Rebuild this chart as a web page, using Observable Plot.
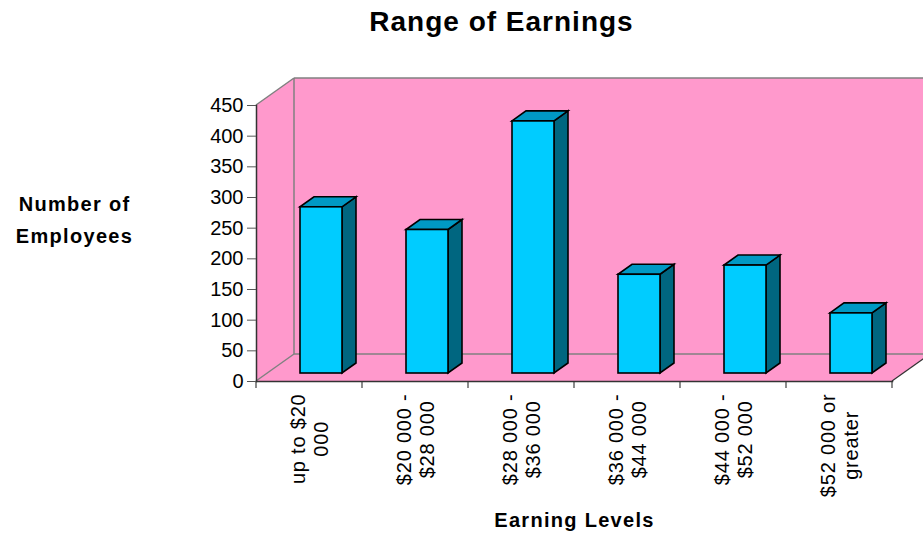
<!DOCTYPE html>
<html>
<head>
<meta charset="utf-8">
<script src="https://cdn.jsdelivr.net/npm/d3@7"></script>
<script src="https://cdn.jsdelivr.net/npm/@observablehq/plot@0.6"></script>
<style>
  html, body { margin: 0; padding: 0; background: #ffffff; }
  #chart svg { display: block; }
  #chart g[font-size="28"] text { letter-spacing: 1px; }
  #chart g[font-weight="bold"][font-size="20"] text { letter-spacing: 1.3px; }
  #chart text[transform*="rotate"] { letter-spacing: 0.8px; }
</style>
</head>
<body>
<div id="chart"></div>
<script>
// ---- data ----
const categories = ["up to $20 000", "$20 000 - $28 000", "$28 000 - $36 000", "$36 000 - $44 000", "$44 000 - $52 000", "$52 000 or greater"];
const categoryLabels = ["up to $20\n000", "$20 000 -\n$28 000", "$28 000 -\n$36 000", "$36 000 -\n$44 000", "$44 000 -\n$52 000", "$52 000 or\ngreater"];
const employees = [271, 234, 411, 161, 176, 98];
const yTicks = [0, 50, 100, 150, 200, 250, 300, 350, 400, 450];
const titleText = "Range of Earnings";
const yTitle = "Number of\nEmployees";
const xTitle = "Earning Levels";

const data = categories.map((c, i) => ({cat: c, value: employees[i], label: categoryLabels[i]}));

// ---- style ----
const PINK = "#FF99CC", FRONT = "#00CCFF", TOP = "#0099C4", SIDE = "#006680";
const WALL_LINE = "#808080", DARK_LINE = "#333333";
const FONT = "'Liberation Sans', Arial, Helvetica, sans-serif";
const WALL = {dx: 38, dy: -27};   // depth of the 3D box
const BAR_OFF = {dx: 12, dy: -8}; // bar front plane offset
const BAR_D = {dx: 14, dy: -10};  // bar depth
const LABEL_LS = 0.8;             // letter spacing of category labels (matches CSS)

function bandwidthOf(s) { return typeof s.bandwidth === "function" ? s.bandwidth() : s.bandwidth; }

const ctx = document.createElement("canvas").getContext("2d");
ctx.font = "20px " + FONT;
function longest(label) { return Math.max(...label.split("\n").map(s => ctx.measureText(s).width + s.length * LABEL_LS)); }

function wallsRender(index, scales, values, dims) {
  const {x, y} = scales;
  const L = dims.marginLeft, R = dims.width - dims.marginRight;
  const T = y(450), B = y(0);
  const g = d3.create("svg:g");
  const pt = (a, b) => a + "," + b;
  g.append("rect").attr("x", L + WALL.dx).attr("y", T + WALL.dy)
    .attr("width", R - L + 10).attr("height", B - T).attr("fill", PINK);
  g.append("polygon").attr("points", [pt(L, B), pt(L, T), pt(L + WALL.dx, T + WALL.dy), pt(L + WALL.dx, B + WALL.dy)].join(" ")).attr("fill", PINK);
  g.append("polygon").attr("points", [pt(L, B), pt(R, B), pt(R + WALL.dx, B + WALL.dy), pt(L + WALL.dx, B + WALL.dy)].join(" ")).attr("fill", PINK);
  const line = (x1, y1, x2, y2, c, w) => g.append("line").attr("x1", x1).attr("y1", y1).attr("x2", x2).attr("y2", y2)
    .attr("stroke", c).attr("stroke-width", w || 1.5);
  line(L + WALL.dx, T + WALL.dy, dims.width + 20, T + WALL.dy, WALL_LINE);
  line(L + WALL.dx, T + WALL.dy, L + WALL.dx, B + WALL.dy, WALL_LINE);
  line(L + WALL.dx, B + WALL.dy, dims.width + 20, B + WALL.dy, WALL_LINE);
  line(L, T, L + WALL.dx, T + WALL.dy, WALL_LINE);
  line(L, B, L + WALL.dx, B + WALL.dy, WALL_LINE);
  line(R, B, R + WALL.dx, B + WALL.dy, DARK_LINE, 1.2);
  const bw = bandwidthOf(x);
  const step = x(categories[1]) - x(categories[0]);
  const bounds = categories.map(c => x(c) + bw / 2 - step / 2);
  bounds.push(x(categories[categories.length - 1]) + bw / 2 + step / 2);
  for (const bx of bounds) line(bx, B, bx, B + 7, "#666666", 1.5);
  return g.node();
}

function barsRender(index, scales) {
  const {x, y} = scales;
  const bw = bandwidthOf(x);
  const g = d3.create("svg:g").attr("stroke", "#000").attr("stroke-width", 1.6).attr("stroke-linejoin", "miter");
  const pt = (a, b) => a + "," + b;
  for (const i of index) {
    const d = data[i];
    const x0 = x(d.cat) + BAR_OFF.dx, x1 = x0 + bw;
    const yb = y(0) + BAR_OFF.dy, yt = y(d.value) + BAR_OFF.dy;
    g.append("polygon").attr("fill", SIDE)
      .attr("points", [pt(x1, yt), pt(x1 + BAR_D.dx, yt + BAR_D.dy), pt(x1 + BAR_D.dx, yb + BAR_D.dy), pt(x1, yb)].join(" "));
    g.append("polygon").attr("fill", TOP)
      .attr("points", [pt(x0, yt), pt(x1, yt), pt(x1 + BAR_D.dx, yt + BAR_D.dy), pt(x0 + BAR_D.dx, yt + BAR_D.dy)].join(" "));
    g.append("rect").attr("fill", FRONT).attr("x", x0).attr("y", yt).attr("width", bw).attr("height", yb - yt);
  }
  return g.node();
}

const labelMarks = data.map(d => Plot.text([d], {
  x: "cat", text: "label", frameAnchor: "bottom", rotate: -90,
  textAnchor: "middle", lineAnchor: "middle", lineHeight: 1.12,
  fontSize: 20, fill: "#000", dy: 12 + longest(d.label) / 2
}));

const chart = Plot.plot({
  width: 923,
  height: 533,
  marginLeft: 256,
  marginRight: 31,
  marginTop: 105,
  marginBottom: 152,
  style: {fontFamily: FONT, color: "#000", background: "#fff", overflow: "visible"},
  x: {domain: categories, paddingInner: 0.6, paddingOuter: 0.3, axis: null},
  y: {domain: [0, 450]},
  marks: [
    Plot.frame({stroke: "none", render: wallsRender}),
    Plot.barY(data, {x: "cat", y: "value", render: barsRender}),
    Plot.frame({anchor: "left", stroke: DARK_LINE, strokeWidth: 1.5}),
    Plot.frame({anchor: "bottom", stroke: DARK_LINE, strokeWidth: 1.5}),
    Plot.axisY({ticks: yTicks, tickSize: 9, tickPadding: 4, fontSize: 20, label: null, tickFormat: d => String(d), stroke: "#555"}),
    ...labelMarks,
    Plot.text([titleText], {frameAnchor: "top-left", dx: 245, dy: -83, textAnchor: "middle", lineAnchor: "middle",
      fontSize: 28, fontWeight: "bold", fill: "#000"}),
    Plot.text([yTitle], {frameAnchor: "top-left", dx: -182, dy: 111, textAnchor: "middle", lineAnchor: "middle",
      lineHeight: 1.6, fontSize: 20, fontWeight: "bold", fill: "#000"}),
    Plot.text([xTitle], {frameAnchor: "bottom", dy: 139, textAnchor: "middle", lineAnchor: "middle",
      fontSize: 20, fontWeight: "bold", fill: "#000"})
  ]
});
document.getElementById("chart").appendChild(chart);
</script>
</body>
</html>
